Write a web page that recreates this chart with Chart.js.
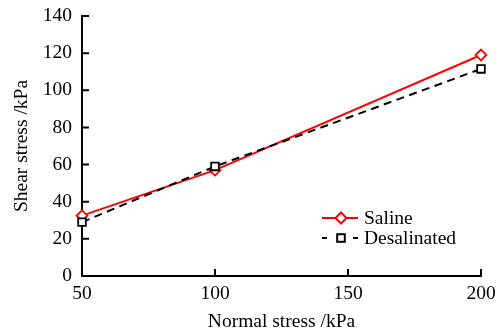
<!DOCTYPE html>
<html>
<head>
<meta charset="utf-8">
<script src="https://cdn.jsdelivr.net/npm/chart.js@4/dist/chart.umd.min.js"></script>
<style>
  html, body { margin: 0; padding: 0; background: #fff; }
  #wrap { width: 502px; height: 334px; }
</style>
</head>
<body>
<div id="wrap"><canvas id="shear-chart"></canvas></div>
<script>
const normalStress = [50, 100, 200];
const salineShear = [32.5, 57, 119];
const desalinatedShear = [29, 59, 111.5];
const xTicks = [50, 100, 150, 200];
const yTicks = [0, 20, 40, 60, 80, 100, 120, 140];
const seriesNames = ['Saline', 'Desalinated'];

const FONT = '"Liberation Serif", "Times New Roman", serif';
const fontSize = 19.5;

function toPoints(xs, ys) {
    return xs.map((x, i) => ({ x: x, y: ys[i] }));
}

// fixed axis box, no extra room reserved for overhanging labels
function fixBox(size) {
    return s => {
        if (s.isHorizontal()) s.height = size; else s.width = size;
        s.paddingTop = s.paddingBottom = s.paddingLeft = s.paddingRight = 0;
    };
}

// inward tick marks on both axes
const inwardTicks = {
    id: 'inwardTicks',
    afterDatasetsDraw(chart) {
        const ctx = chart.ctx;
        const xs = chart.scales.x, ys = chart.scales.y;
        const area = chart.chartArea;
        const len = 7;
        ctx.save();
        ctx.strokeStyle = '#000';
        ctx.lineWidth = 2;
        ctx.beginPath();
        xTicks.forEach(v => {
            const px = xs.getPixelForValue(v);
            ctx.moveTo(px, area.bottom);
            ctx.lineTo(px, area.bottom - len);
        });
        yTicks.forEach(v => {
            const py = ys.getPixelForValue(v);
            ctx.moveTo(area.left, py);
            ctx.lineTo(area.left + len, py);
        });
        ctx.stroke();
        ctx.restore();
    }
};

// legend drawn inside the plot, lower right
const innerLegend = {
    id: 'innerLegend',
    afterDraw(chart) {
        const ctx = chart.ctx;
        const x0 = 322, x1 = 358, xm = 341, tx = 364;
        const rows = [218, 238];
        ctx.save();
        ctx.font = fontSize + 'px ' + FONT;
        ctx.textBaseline = 'middle';
        ctx.fillStyle = '#000';

        // Saline
        let y = rows[0];
        ctx.strokeStyle = '#ff0000';
        ctx.lineWidth = 2;
        ctx.beginPath();
        ctx.moveTo(x0, y); ctx.lineTo(x1, y);
        ctx.stroke();
        ctx.beginPath();
        ctx.moveTo(xm, y - 5.5); ctx.lineTo(xm + 5.5, y);
        ctx.lineTo(xm, y + 5.5); ctx.lineTo(xm - 5.5, y);
        ctx.closePath();
        ctx.fillStyle = '#fff';
        ctx.fill();
        ctx.stroke();
        ctx.fillStyle = '#000';
        ctx.fillText(seriesNames[0], tx, y + 1);

        // Desalinated
        y = rows[1];
        ctx.strokeStyle = '#000';
        ctx.lineWidth = 2;
        ctx.beginPath();
        ctx.moveTo(x0, y); ctx.lineTo(x0 + 5, y);
        ctx.moveTo(x1 - 5, y); ctx.lineTo(x1, y);
        ctx.stroke();
        ctx.fillStyle = '#fff';
        ctx.fillRect(xm - 3.8, y - 3.8, 7.6, 7.6);
        ctx.strokeRect(xm - 3.8, y - 3.8, 7.6, 7.6);
        ctx.fillStyle = '#000';
        ctx.fillText(seriesNames[1], tx, y + 1);
        ctx.restore();
    }
};

const shear_config = {
    type: 'line',
    data: {
        datasets: [{
            label: seriesNames[1],
            data: toPoints(normalStress, desalinatedShear),
            borderColor: '#000',
            borderWidth: 2,
            borderDash: [8, 5.5],
            pointStyle: 'rect',
            pointRadius: 5.4,
            pointBorderWidth: 1.8,
            pointBackgroundColor: '#fff',
            pointBorderColor: '#000',
            clip: false
        }, {
            label: seriesNames[0],
            data: toPoints(normalStress, salineShear),
            borderColor: '#ff0000',
            borderWidth: 2,
            pointStyle: 'rectRot',
            pointRadius: 5.4,
            pointBorderWidth: 1.8,
            pointBackgroundColor: '#fff',
            pointBorderColor: '#ff0000',
            clip: false
        }]
    },
    options: {
        responsive: true,
        maintainAspectRatio: false,
        animation: false,
        layout: { autoPadding: false, padding: { left: 0, right: 21, top: 16, bottom: 0 } },
        plugins: {
            legend: { display: false },
            tooltip: { enabled: false }
        },
        scales: {
            x: {
                type: 'linear',
                min: 50,
                max: 200,
                afterBuildTicks: s => { s.ticks = xTicks.map(v => ({ value: v })); },
                afterFit: fixBox(58),
                grid: { display: false, drawTicks: false },
                border: { display: true, color: '#000', width: 2 },
                ticks: {
                    color: '#000',
                    padding: 6,
                    maxRotation: 0,
                    font: { family: FONT, size: fontSize }
                },
                title: {
                    display: true,
                    text: 'Normal stress /kPa',
                    color: '#000',
                    padding: { top: 0, bottom: 0 },
                    font: { family: FONT, size: fontSize }
                }
            },
            y: {
                min: 0,
                max: 140,
                afterBuildTicks: s => { s.ticks = yTicks.map(v => ({ value: v })); },
                afterFit: fixBox(82),
                grid: { display: false, drawTicks: false },
                border: { display: true, color: '#000', width: 2 },
                ticks: {
                    color: '#000',
                    padding: 10,
                    font: { family: FONT, size: fontSize }
                },
                title: {
                    display: true,
                    text: 'Shear stress /kPa',
                    color: '#000',
                    padding: { top: 10, bottom: 0 },
                    font: { family: FONT, size: fontSize }
                }
            }
        }
    },
    plugins: [inwardTicks, innerLegend]
};

// wait for the serif face before the first draw
document.fonts.load(fontSize + 'px "Liberation Serif"').finally(() => {
    var myChart = new Chart(
        document.getElementById('shear-chart'),
        shear_config
    );
});
</script>
</body>
</html>
